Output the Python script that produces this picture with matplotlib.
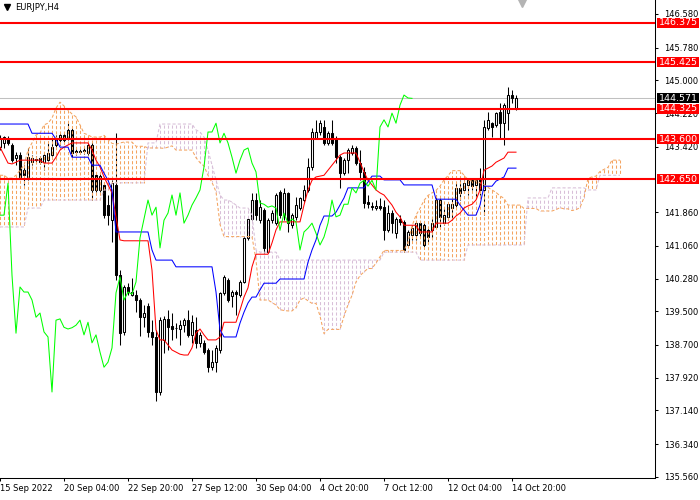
import numpy as np
import matplotlib.pyplot as plt
import matplotlib.transforms as mtransforms
from matplotlib import font_manager
from matplotlib.collections import LineCollection
from matplotlib.patches import Rectangle

# — Dados (EURJPY, H4) —
datas = ["15 Sep 2022", "20 Sep 04:00", "22 Sep 20:00", "27 Sep 12:00", "30 Sep 04:00",
         "4 Oct 20:00", "7 Oct 12:00", "12 Oct 04:00", "14 Oct 20:00"]

aberturas = [
    143.41, 143.51, 143.60, 143.46, 143.15, 143.22, 142.86, 142.70, 143.05, 143.10,
    143.15, 143.05, 143.10, 143.22, 143.46, 143.58, 143.70, 143.63, 143.82, 143.32,
    143.29, 143.32, 143.27, 143.46, 142.74, 142.39, 142.51, 142.03, 141.67, 142.51,
    140.36, 139.01, 140.08, 139.89, 139.89, 139.77, 139.36, 139.62, 139.01, 138.89,
    137.58, 138.82, 139.32, 139.15, 139.10, 139.08, 139.17, 139.29, 138.94, 139.06,
    138.75, 138.75, 138.58, 138.17, 138.29, 138.58, 139.94, 140.25, 139.86, 139.96,
    139.89, 140.20, 141.25, 141.70, 142.15, 141.67, 141.91, 140.91, 141.67, 141.60,
    142.34, 141.79, 142.32, 141.55, 141.75, 141.96, 142.15, 142.39, 142.94, 143.63,
    143.77, 143.89, 143.51, 143.74, 143.63, 143.17, 142.79, 143.10, 143.27, 143.39,
    143.03, 142.82, 142.10, 142.01, 141.96, 142.01, 141.98, 141.43, 141.84, 141.36,
    141.70, 141.63, 141.08, 141.32, 141.32, 141.60, 141.55, 141.44, 141.44, 141.51,
    142.15, 141.60, 141.75, 141.96, 142.03, 142.44, 142.39, 142.51, 142.62, 142.51,
    142.67, 142.39, 143.86, 143.98, 143.94, 144.25, 143.98, 144.22, 144.65, 144.34,
]
maximas = [
    143.70, 143.67, 143.67, 143.51, 143.29, 143.29, 142.98, 143.39, 143.22, 143.20,
    143.20, 143.29, 143.51, 143.63, 143.70, 143.74, 143.77, 143.98, 143.86, 143.39,
    143.36, 143.41, 143.51, 143.53, 142.79, 142.82, 142.58, 142.27, 142.62, 143.74,
    140.48, 140.13, 140.17, 140.29, 140.01, 139.82, 139.65, 139.70, 139.29, 139.06,
    139.36, 139.39, 139.53, 139.46, 139.22, 139.29, 139.34, 139.53, 139.41, 139.36,
    139.01, 138.82, 138.63, 138.58, 138.70, 139.96, 140.36, 140.29, 140.01, 140.01,
    140.25, 141.29, 141.72, 142.32, 142.32, 142.15, 141.96, 141.72, 141.91, 142.32,
    142.39, 142.44, 142.34, 141.84, 142.22, 142.22, 142.51, 143.15, 143.86, 144.06,
    144.06, 144.06, 143.79, 144.06, 143.67, 143.22, 143.15, 143.39, 143.46, 143.43,
    143.34, 142.94, 142.27, 142.10, 142.15, 142.20, 142.15, 142.03, 141.91, 141.75,
    141.79, 141.67, 141.44, 141.55, 141.63, 141.65, 141.63, 141.51, 141.75, 142.27,
    142.20, 141.96, 142.08, 142.22, 142.55, 142.62, 142.62, 142.67, 142.67, 142.65,
    142.91, 144.06, 144.25, 144.01, 144.25, 144.46, 144.46, 144.84, 144.77, 144.65,
]
minimas = [
    143.34, 143.39, 143.46, 143.05, 142.98, 142.67, 142.51, 142.62, 142.98, 143.03,
    143.01, 142.86, 143.08, 143.20, 143.41, 143.46, 143.53, 143.58, 143.17, 143.22,
    143.24, 143.24, 143.22, 142.15, 142.34, 142.34, 141.72, 141.55, 141.15, 140.24,
    138.70, 138.94, 139.89, 139.86, 139.48, 138.91, 139.12, 138.89, 138.70, 137.36,
    137.51, 138.51, 138.58, 138.82, 138.86, 138.70, 139.01, 138.89, 138.75, 138.63,
    138.65, 138.48, 138.05, 138.10, 138.05, 138.51, 139.89, 139.72, 139.60, 139.41,
    139.84, 140.17, 141.20, 141.67, 141.67, 141.60, 140.89, 140.89, 141.60, 141.55,
    141.72, 141.67, 141.39, 141.48, 141.67, 141.91, 142.10, 142.34, 142.86, 143.60,
    143.70, 143.46, 143.46, 143.46, 143.03, 142.44, 142.74, 142.79, 143.22, 142.98,
    142.62, 141.96, 141.96, 141.91, 141.91, 141.91, 141.20, 141.39, 141.36, 141.25,
    141.55, 140.91, 141.03, 141.20, 141.20, 141.27, 141.03, 141.13, 141.25, 141.48,
    141.51, 141.55, 141.67, 141.67, 141.98, 142.15, 142.32, 142.27, 142.39, 142.20,
    142.27, 141.79, 143.82, 143.65, 143.89, 143.63, 143.46, 143.82, 144.46, 144.29,
]
fechamentos = [
    143.63, 143.65, 143.51, 143.10, 143.22, 142.70, 142.74, 143.17, 143.15, 143.12,
    143.05, 143.22, 143.27, 143.41, 143.63, 143.70, 143.58, 143.82, 143.27, 143.29,
    143.32, 143.34, 143.46, 142.39, 142.39, 142.72, 141.79, 141.79, 142.55, 140.36,
    138.98, 140.08, 139.96, 139.96, 139.77, 139.36, 139.46, 139.01, 138.89, 137.58,
    139.29, 139.32, 139.12, 139.08, 139.11, 139.17, 139.29, 138.94, 139.24, 138.75,
    138.94, 138.53, 138.17, 138.29, 138.63, 139.94, 140.32, 139.77, 139.96, 139.91,
    140.20, 141.25, 141.70, 142.15, 141.79, 141.98, 141.01, 141.67, 141.84, 142.27,
    141.79, 142.32, 141.60, 141.79, 142.03, 142.20, 142.39, 142.94, 143.77, 143.77,
    143.98, 143.51, 143.74, 143.51, 143.17, 142.79, 143.10, 143.34, 143.39, 143.03,
    142.82, 142.08, 142.05, 141.98, 142.01, 141.96, 141.43, 141.84, 141.60, 141.70,
    141.63, 140.96, 141.39, 141.48, 141.60, 141.36, 141.08, 141.27, 141.60, 142.15,
    141.75, 141.79, 142.05, 142.05, 142.44, 142.32, 142.55, 142.62, 142.48, 142.62,
    142.39, 143.89, 144.06, 143.89, 144.22, 143.98, 144.41, 144.65, 144.58, 144.571,
]

# Ichimoku: Tenkan (vermelho), Kijun (azul)
tenkan = [
    143.41, 143.22, 143.03, 143.01, 143.05, 143.10, 143.10, 143.10, 143.10, 143.10,
    143.10, 143.03, 143.03, 143.03, 143.17, 143.34, 143.41, 143.46, 143.51, 143.51,
    143.51, 143.51, 143.51, 143.34, 143.10, 142.94, 142.70, 142.51, 142.32, 141.75,
    141.20, 141.18, 141.18, 141.18, 141.18, 141.18, 141.18, 141.18, 140.48, 139.06,
    138.82, 138.82, 138.70, 138.58, 138.53, 138.48, 138.46, 138.46, 138.63, 138.98,
    139.08, 138.94, 138.82, 138.82, 138.82, 138.89, 139.24, 139.24, 139.24, 139.24,
    139.53, 139.84, 140.06, 140.56, 140.86, 140.86, 140.86, 140.86, 141.13, 141.44,
    141.63, 141.63, 141.63, 141.63, 141.63, 141.63, 142.03, 142.39, 142.62, 142.70,
    142.72, 142.74, 142.86, 142.98, 143.10, 143.22, 143.27, 143.27, 143.27, 143.27,
    143.05, 142.82, 142.62, 142.51, 142.39, 142.32, 142.27, 142.15, 142.03, 141.86,
    141.75, 141.55, 141.55, 141.55, 141.55, 141.39, 141.39, 141.39, 141.39, 141.60,
    141.60, 141.60, 141.60, 141.67, 141.77, 141.84, 141.96, 142.01, 142.05, 142.15,
    142.39, 142.86, 142.91, 142.96, 143.05, 143.10, 143.15, 143.29, 143.29, 143.29,
]
kijun = [
    143.96, 143.96, 143.96, 143.96, 143.96, 143.96, 143.96, 143.96, 143.74, 143.74,
    143.74, 143.74, 143.74, 143.74, 143.60, 143.41, 143.41, 143.41, 143.17, 143.17,
    143.17, 143.17, 143.17, 142.98, 142.98, 142.98, 142.79, 142.62, 142.39, 141.39,
    141.39, 141.39, 141.39, 141.39, 141.39, 141.39, 141.39, 141.39, 140.96, 140.72,
    140.72, 140.72, 140.72, 140.72, 140.56, 140.56, 140.56, 140.56, 140.56, 140.56,
    140.56, 140.56, 140.56, 140.56, 139.96, 139.06, 138.89, 138.89, 138.89, 138.89,
    139.22, 139.48, 139.70, 139.84, 139.84, 140.01, 140.17, 140.17, 140.17, 140.17,
    140.27, 140.27, 140.27, 140.27, 140.27, 140.27, 140.27, 140.67, 140.96, 141.20,
    141.55, 141.77, 141.77, 141.77, 141.86, 142.03, 142.20, 142.44, 142.44, 142.44,
    142.44, 142.44, 142.58, 142.72, 142.72, 142.72, 142.63, 142.63, 142.63, 142.63,
    142.63, 142.51, 142.51, 142.51, 142.51, 142.51, 142.51, 142.51, 142.51, 142.17,
    142.17, 142.17, 142.17, 142.17, 142.17, 142.03, 141.91, 141.79, 141.79, 141.79,
    142.03, 142.48, 142.48, 142.48, 142.60, 142.65, 142.70, 142.91, 142.91, 142.91,
]
# Senkou Span A e B (nuvem, projetada 26 barras à frente)
span_a = [
    142.74, 142.74, 142.67, 142.67, 142.74, 142.86, 142.98, 143.34, 143.51, 143.70,
    143.74, 143.94, 143.98, 144.10, 144.34, 144.48, 144.39, 144.29, 144.20, 144.13,
    143.94, 143.74, 143.70, 143.65, 143.65, 143.65, 143.69, 143.59, 143.50, 143.48,
    143.51, 143.53, 143.53, 143.53, 143.43, 143.43, 143.43, 143.39, 143.39, 143.39,
    143.39, 143.38, 143.41, 143.44, 143.34, 143.34, 143.34, 143.34, 143.34, 143.16,
    143.04, 142.96, 142.74, 142.57, 142.35, 141.57, 141.28, 141.28, 141.28, 141.28,
    141.28, 141.28, 141.28, 141.28, 140.72, 139.77, 139.77, 139.77, 139.71, 139.65,
    139.54, 139.52, 139.51, 139.51, 139.59, 139.77, 139.82, 139.75, 139.69, 139.69,
    139.39, 138.97, 139.07, 139.07, 139.07, 139.07, 139.38, 139.66, 139.88, 140.20,
    140.35, 140.44, 140.52, 140.52, 140.65, 140.80, 140.95, 140.95, 140.95, 140.95,
    140.95, 140.95, 141.15, 141.53, 141.79, 141.95, 142.14, 142.26, 142.32, 142.38,
    142.48, 142.63, 142.73, 142.85, 142.85, 142.85, 142.74, 142.63, 142.60, 142.61,
    142.56, 142.52, 142.45, 142.39, 142.33, 142.25, 142.19, 142.03, 142.03, 142.03,
    142.03, 141.95, 141.95, 141.95, 141.95, 141.89, 141.89, 141.89, 141.89, 141.92,
    141.97, 141.94, 141.94, 141.90, 141.92, 141.97, 142.21, 142.67, 142.70, 142.72,
    142.83, 142.88, 142.93, 143.10, 143.10, 143.10,
]
span_b = [
    141.51, 141.51, 141.51, 141.51, 141.51, 141.51, 141.51, 141.96, 141.96, 141.96,
    141.96, 142.15, 142.15, 142.15, 142.15, 142.15, 142.15, 142.15, 142.15, 142.15,
    142.15, 142.15, 142.15, 142.15, 142.15, 142.15, 142.39, 142.39, 142.56, 142.56,
    142.56, 142.56, 142.56, 142.56, 142.56, 142.56, 142.56, 143.51, 143.51, 143.51,
    143.96, 143.96, 143.96, 143.96, 143.96, 143.96, 143.96, 143.96, 143.96, 143.82,
    143.77, 143.65, 143.34, 142.98, 142.62, 142.27, 142.15, 142.15, 142.10, 142.03,
    141.96, 141.96, 141.96, 141.79, 140.96, 140.91, 140.91, 140.91, 140.91, 140.91,
    140.72, 140.72, 140.72, 140.72, 140.72, 140.72, 140.72, 140.72, 140.72, 140.72,
    140.72, 140.72, 140.72, 140.72, 140.72, 140.72, 140.72, 140.72, 140.72, 140.72,
    140.72, 140.72, 140.72, 140.72, 140.72, 140.72, 140.91, 140.91, 140.91, 140.91,
    140.91, 140.91, 140.91, 140.91, 140.91, 140.72, 140.72, 140.72, 140.72, 140.72,
    140.72, 140.72, 140.72, 140.72, 140.72, 140.72, 140.72, 141.08, 141.08, 141.08,
    141.08, 141.08, 141.08, 141.08, 141.08, 141.08, 141.08, 141.08, 141.08, 141.08,
    141.08, 141.08, 142.20, 142.20, 142.20, 142.20, 142.20, 142.20, 142.44, 142.44,
    142.44, 142.44, 142.44, 142.44, 142.44, 142.44, 142.44, 142.39, 142.39, 142.39,
    142.74, 142.74, 142.74, 142.74, 142.74, 142.74,
]

niveis = [146.375, 145.425, 144.325, 143.600, 142.650]
preco_atual = 144.571
escala_y = [146.58, 145.78, 145.00, 144.22, 143.42, 141.86, 141.06,
            140.28, 139.50, 138.70, 137.92, 137.14, 136.34, 135.56]

# — Estilo —
LARANJA = '#F4A460'
CARDO = '#D8BFD8'
Y_TOPO, Y_BASE = 146.913, 135.532
PX = 478 / (Y_TOPO - Y_BASE)     # pixels por unidade de preço
LW = 0.75

nomes = {f.name for f in font_manager.fontManager.ttflist}
FONTE = 'Liberation Sans Narrow' if 'Liberation Sans Narrow' in nomes else 'DejaVu Sans'
FS = 7.5 if FONTE != 'DejaVu Sans' else 6
plt.rcParams['font.family'] = [FONTE, 'DejaVu Sans']

fig = plt.figure(figsize=(7, 5), dpi=100)
ax = fig.add_axes([0, 22 / 500, 655 / 700, 478 / 500])
ax.set_xlim(0, 655 / 4)
ax.set_ylim(Y_BASE, Y_TOPO)

o = np.array(aberturas); h = np.array(maximas)
l = np.array(minimas); c = np.array(fechamentos)
idx = np.arange(len(c))

# — Velas —
ax.vlines(idx, l, h, color='black', lw=LW, zorder=2)
alta = c >= o
corpo = np.maximum(np.abs(c - o), 0.012)
ax.bar(idx, corpo, bottom=np.minimum(o, c), width=0.5,
       color=np.where(alta, 'white', 'black'), edgecolor='black',
       linewidth=LW, zorder=3)

# — Nuvem (histograma pontilhado por barra) —
sa = np.array(span_a); sb = np.array(span_b)
ic = np.arange(len(sa))
topo = np.maximum(sa, sb); base = np.minimum(sa, sb)
segs = [[(i, t), (i, b)] for i, t, b in zip(ic, topo, base)]
fase = ((Y_TOPO - topo) * PX) % 5
estilos = [(f, (3, 2)) for f in fase]
cores = np.where(sa >= sb, LARANJA, CARDO)
ax.add_collection(LineCollection(segs, colors=cores, linewidths=LW,
                                 linestyles=estilos, zorder=4))
ax.plot(ic, sa, color=LARANJA, lw=LW, ls=(0, (3, 2)), zorder=4)
ax.plot(ic, sb, color=CARDO, lw=LW, ls=(0, (3, 2)), zorder=4)

# — Linhas do Ichimoku —
ax.plot(idx, tenkan, color='#FF0000', lw=LW, zorder=5)
ax.plot(idx, kijun, color='#0000FF', lw=LW, zorder=5)
ax.plot(idx[:len(c) - 26], c[26:], color='#00FF00', lw=LW, zorder=5)

# — Níveis horizontais e preço atual —
ax.axhline(preco_atual, color='#C0C0C0', lw=LW, zorder=1)
for nv in niveis:
    ax.axhline(nv, color='#FF0000', lw=1.5, zorder=6)

trans = mtransforms.blended_transform_factory(ax.transAxes, ax.transData)
def etiqueta(valor, cor):
    ax.add_patch(Rectangle((1 + 2 / 655, valor - 5 / PX), 42 / 655, 10 / PX,
                           transform=trans, facecolor=cor, edgecolor='none',
                           clip_on=False, zorder=10))
    ax.text(1 + 4 / 655, valor, f'{valor:.3f}', transform=trans, color='white',
            fontsize=FS + 0.8, va='center', ha='left', clip_on=False, zorder=11)

for nv in niveis:
    etiqueta(nv, '#FF0000')
etiqueta(preco_atual, 'black')

# — Eixos —
for lado in ('top', 'left'):
    ax.spines[lado].set_visible(False)
for lado in ('right', 'bottom'):
    ax.spines[lado].set_linewidth(LW)
ax.yaxis.tick_right()
ax.set_yticks(escala_y)
ax.set_yticklabels([f'{v:.3f}' for v in escala_y])
ax.set_xticks(np.arange(len(datas)) * 16)
ax.set_xticklabels(datas)
for rot in ax.get_xticklabels():
    rot.set_ha('left')
ax.tick_params(axis='both', direction='out', length=2.5, width=LW,
               labelsize=FS, pad=2)
ax.tick_params(axis='y', pad=4)

# — Título e marcadores —
ax.plot([1.8], [Y_TOPO - 7 / PX], marker='v', ms=4.5, color='black', clip_on=False, zorder=12)
ax.text(15 / 4, Y_TOPO - 7 / PX, 'EURJPY,H4', fontsize=FS, va='center', ha='left', zorder=12)
ax.plot([130.5], [Y_TOPO - 2 / PX], marker='v', ms=7, color='#B4B4B4', clip_on=False, zorder=12)

fig.savefig('out.png', dpi=100)
